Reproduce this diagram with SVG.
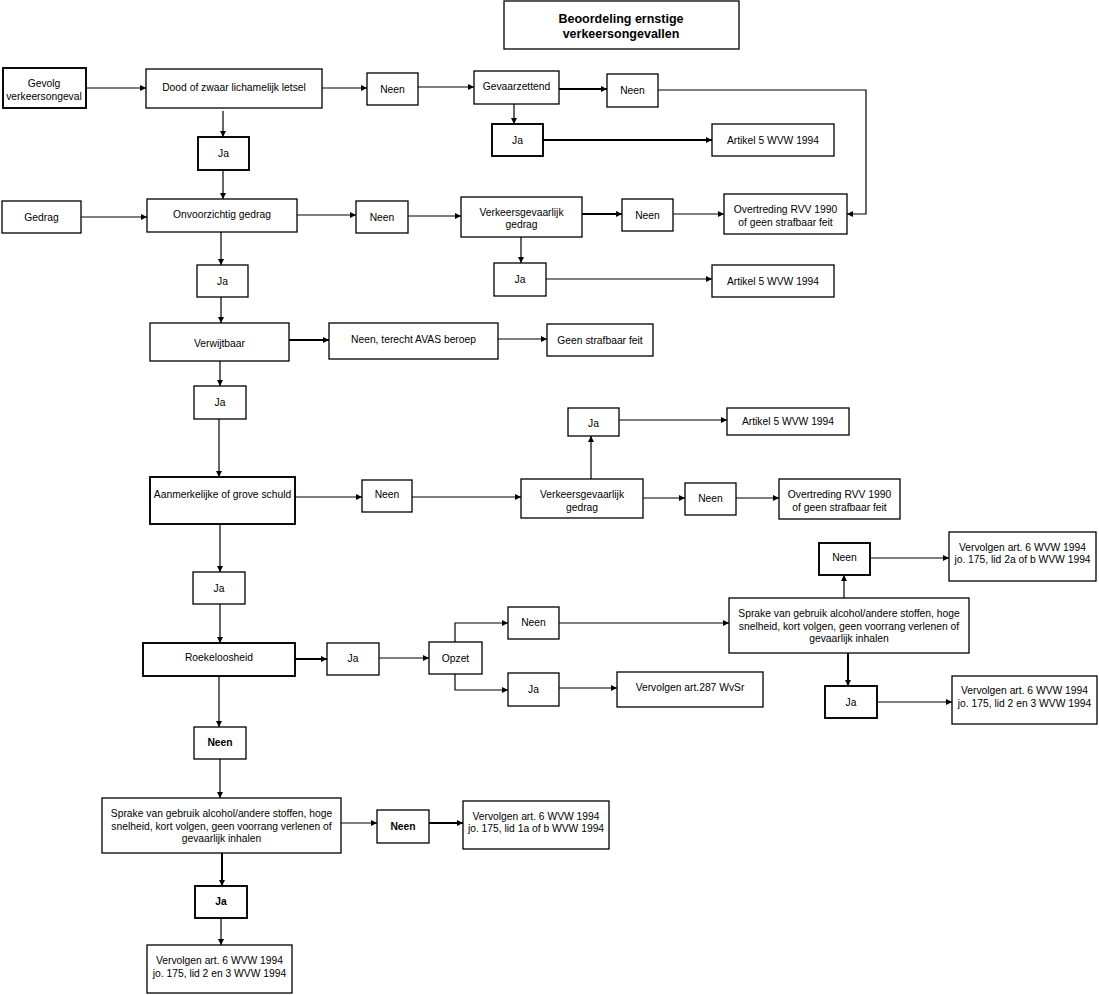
<svg xmlns="http://www.w3.org/2000/svg" width="1099" height="995" viewBox="0 0 1099 995">
<style>
rect{fill:#fff;stroke:#000;stroke-width:1.3}
rect.t{stroke-width:1.9}
text{font-family:"Liberation Sans",Arial,sans-serif;font-size:10.3px;fill:#000;text-anchor:middle}
text.b{font-weight:bold}
text.h{font-weight:bold;font-size:12.5px}
#connectors path{fill:none;stroke:#000;stroke-width:1.2;marker-end:url(#ah)}
#connectors path.t{stroke-width:2}
</style>
<defs>
<marker id="ah" viewBox="0 0 8 8" refX="8" refY="4" markerWidth="7" markerHeight="6" markerUnits="userSpaceOnUse" orient="auto">
<path d="M0,0 L8,4 L0,8 z" fill="#000"/>
</marker>
</defs>
<rect x="0" y="0" width="1099" height="995" style="fill:#fff;stroke:none"/>
<g id="connectors">
<path d="M86,88 H146"/>
<path d="M322,88 H367"/>
<path d="M418,87 H474"/>
<path class="t" d="M559,89 H607"/>
<path d="M658,90 H866 V214 H847"/>
<path d="M223,111 V137"/>
<path d="M514,104 V124"/>
<path class="t" d="M543,140 H712"/>
<path d="M223,170 V199"/>
<path d="M81,217 H147"/>
<path d="M297,215 H356"/>
<path d="M408,216 H461"/>
<path class="t" d="M582,214 H622"/>
<path d="M673,214 H724"/>
<path d="M221,232 V265"/>
<path d="M521,237 V263"/>
<path d="M546,279 H712"/>
<path d="M221,297 V323"/>
<path class="t" d="M289,340 H329"/>
<path d="M498,339 H547"/>
<path d="M220,361 V386"/>
<path d="M219,419 V477"/>
<path d="M295,497 H362"/>
<path d="M412,497 H521"/>
<path d="M591,479 V436"/>
<path d="M619,420 H727"/>
<path d="M643,498 H685"/>
<path d="M736,498 H779"/>
<path d="M220,524 V572"/>
<path d="M220,604 V643"/>
<path class="t" d="M295,659 H327"/>
<path d="M379,658 H429"/>
<path d="M455,642 V623 H508"/>
<path d="M455,674 V690 H508"/>
<path d="M559,623 H729"/>
<path d="M559,688 H617"/>
<path d="M844,598 V575"/>
<path d="M870,558 H949"/>
<path class="t" d="M848,653 V686"/>
<path d="M877,702 H952"/>
<path d="M219,676 V727"/>
<path d="M220,759 V798"/>
<path d="M341,823 H377"/>
<path class="t" d="M429,823 H463"/>
<path class="t" d="M222,853 V886"/>
<path d="M221,918 V945"/>
</g>
<g id="title"><rect x="504" y="1" width="235" height="48"/><text class="h" x="621" y="23">Beoordeling ernstige</text><text class="h" x="621" y="38">verkeersongevallen</text></g>
<g id="gevolg"><rect class="t" x="3" y="68" width="83" height="40"/><text x="44" y="87">Gevolg</text><text x="44" y="100">verkeersongeval</text></g>
<g id="dood"><rect x="146" y="69" width="176" height="39"/><text x="234" y="91">Dood of zwaar lichamelijk letsel</text></g>
<g id="neen1"><rect x="367" y="73" width="51" height="32"/><text x="392.5" y="93">Neen</text></g>
<g id="gevaarzettend"><rect x="474" y="71" width="85" height="33"/><text x="516.5" y="90">Gevaarzettend</text></g>
<g id="neen2"><rect x="607" y="74" width="51" height="33"/><text x="632.5" y="94">Neen</text></g>
<g id="ja1"><rect class="t" x="198" y="137" width="51" height="33"/><text x="223.5" y="157">Ja</text></g>
<g id="ja-gev"><rect class="t" x="492" y="124" width="51" height="32"/><text x="517.5" y="144">Ja</text></g>
<g id="artikel1"><rect x="712" y="124" width="122" height="32"/><text x="773" y="144">Artikel 5 WVW 1994</text></g>
<g id="gedrag"><rect x="2" y="201" width="79" height="32"/><text x="41.5" y="221">Gedrag</text></g>
<g id="onvoorzichtig"><rect x="147" y="199" width="150" height="33"/><text x="222" y="218">Onvoorzichtig gedrag</text></g>
<g id="neen3"><rect x="356" y="201" width="52" height="32"/><text x="382" y="221">Neen</text></g>
<g id="vg1"><rect x="461" y="197" width="121" height="40"/><text x="521.5" y="216">Verkeersgevaarlijk</text><text x="521.5" y="228">gedrag</text></g>
<g id="neen4"><rect x="622" y="199" width="51" height="32"/><text x="647.5" y="219">Neen</text></g>
<g id="overtreding1"><rect x="724" y="194" width="123" height="40"/><text x="785.5" y="213">Overtreding RVV 1990</text><text x="785.5" y="226">of geen strafbaar feit</text></g>
<g id="ja2"><rect x="197" y="265" width="51" height="32"/><text x="222.5" y="285">Ja</text></g>
<g id="ja-vg1"><rect x="494" y="263" width="52" height="33"/><text x="520" y="283">Ja</text></g>
<g id="artikel2"><rect x="712" y="265" width="122" height="32"/><text x="773" y="285">Artikel 5 WVW 1994</text></g>
<g id="verwijtbaar"><rect x="150" y="323" width="139" height="38"/><text x="219.5" y="347">Verwijtbaar</text></g>
<g id="neen-avas"><rect x="329" y="323" width="169" height="36"/><text x="413.5" y="343">Neen, terecht AVAS beroep</text></g>
<g id="geen"><rect x="547" y="324" width="106" height="32"/><text x="600" y="344">Geen strafbaar feit</text></g>
<g id="ja3"><rect x="194" y="386" width="52" height="33"/><text x="220" y="406">Ja</text></g>
<g id="ja-up"><rect x="568" y="408" width="51" height="28"/><text x="593.5" y="427">Ja</text></g>
<g id="artikel3"><rect x="727" y="408" width="122" height="27"/><text x="788" y="425">Artikel 5 WVW 1994</text></g>
<g id="aanmerkelijk"><rect class="t" x="150" y="477" width="145" height="47"/><text x="222.5" y="498">Aanmerkelijke of grove schuld</text></g>
<g id="neen5"><rect x="362" y="480" width="50" height="32"/><text x="387" y="498">Neen</text></g>
<g id="vg2"><rect x="521" y="479" width="122" height="39"/><text x="582" y="498">Verkeersgevaarlijk</text><text x="582" y="511">gedrag</text></g>
<g id="neen6"><rect x="685" y="483" width="51" height="32"/><text x="710.5" y="502">Neen</text></g>
<g id="overtreding2"><rect x="779" y="479" width="121" height="40"/><text x="839.5" y="498">Overtreding RVV 1990</text><text x="839.5" y="511">of geen strafbaar feit</text></g>
<g id="ja4"><rect x="193" y="572" width="52" height="32"/><text x="219" y="592">Ja</text></g>
<g id="neen-rechts"><rect class="t" x="819" y="543" width="51" height="32"/><text x="844.5" y="561">Neen</text></g>
<g id="vervolgen-2a"><rect x="949" y="532" width="147" height="49"/><text x="1022.5" y="551">Vervolgen art. 6 WVW 1994</text><text x="1022.5" y="563">jo. 175, lid 2a of b WVW 1994</text></g>
<g id="sprake2"><rect x="729" y="598" width="240" height="55"/><text x="849" y="617">Sprake van gebruik alcohol/andere stoffen, hoge</text><text x="849" y="630">snelheid, kort volgen, geen voorrang verlenen of</text><text x="849" y="642">gevaarlijk inhalen</text></g>
<g id="neen-opzet"><rect x="508" y="607" width="51" height="32"/><text x="533.5" y="626">Neen</text></g>
<g id="roekeloosheid"><rect class="t" x="143" y="643" width="152" height="33"/><text x="219" y="661">Roekeloosheid</text></g>
<g id="ja-roek"><rect x="327" y="643" width="52" height="32"/><text x="353" y="662">Ja</text></g>
<g id="opzet"><rect x="429" y="642" width="53" height="32"/><text x="455.5" y="662">Opzet</text></g>
<g id="ja-opzet"><rect x="508" y="673" width="51" height="33"/><text x="533.5" y="693">Ja</text></g>
<g id="vervolgen-287"><rect x="617" y="672" width="146" height="35"/><text x="690" y="691">Vervolgen art.287 WvSr</text></g>
<g id="ja-sprake2"><rect class="t" x="825" y="686" width="52" height="32"/><text x="851" y="706">Ja</text></g>
<g id="vervolgen-23-rechts"><rect x="952" y="676" width="145" height="48"/><text x="1024.5" y="694">Vervolgen art. 6 WVW 1994</text><text x="1024.5" y="707">jo. 175, lid 2 en 3 WVW 1994</text></g>
<g id="neen-roek"><rect x="194" y="727" width="52" height="32"/><text class="b" x="220" y="746">Neen</text></g>
<g id="sprake1"><rect x="102" y="798" width="239" height="55"/><text x="221.5" y="817">Sprake van gebruik alcohol/andere stoffen, hoge</text><text x="221.5" y="830">snelheid, kort volgen, geen voorrang verlenen of</text><text x="221.5" y="842">gevaarlijk inhalen</text></g>
<g id="neen-sprake1"><rect x="377" y="810" width="52" height="33"/><text class="b" x="403" y="830">Neen</text></g>
<g id="vervolgen-1a"><rect x="463" y="801" width="146" height="48"/><text x="536" y="820">Vervolgen art. 6 WVW 1994</text><text x="536" y="832">jo. 175, lid 1a of b WVW 1994</text></g>
<g id="ja-bottom"><rect class="t" x="195" y="886" width="52" height="32"/><text class="b" x="221" y="905">Ja</text></g>
<g id="vervolgen-23"><rect x="147" y="945" width="145" height="48"/><text x="219.5" y="964">Vervolgen art. 6 WVW 1994</text><text x="219.5" y="977">jo. 175, lid 2 en 3 WVW 1994</text></g>
</svg>
